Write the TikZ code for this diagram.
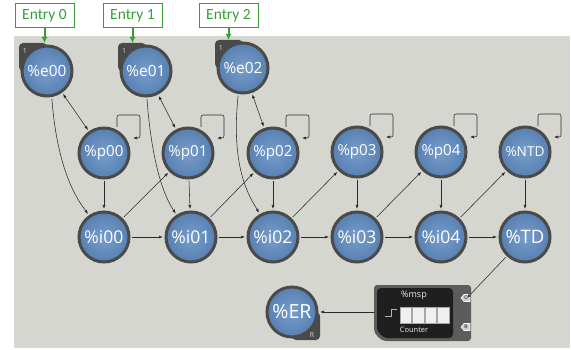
\documentclass[tikz,border=0pt]{standalone}
\usepackage{graphicx}
\usepackage{fontspec}
\usetikzlibrary{arrows.meta,calc,backgrounds}
\newfontfamily\ballfont{Open Sans}
\newfontfamily\entryfont{Carlito}
\definecolor{canvas}{HTML}{D6D6D0}
\definecolor{ballblue}{HTML}{5F8CC2}
\definecolor{balledge}{HTML}{4A4A4A}
\definecolor{wire}{HTML}{2A2A2A}
\definecolor{entrygreen}{HTML}{36A036}
\definecolor{mspgray}{HTML}{5C5C5C}
\definecolor{mspblack}{HTML}{1F1F1F}
\newcommand{\fitlbl}[1]{\resizebox{39pt}{!}{#1}}

\begin{document}
\begin{tikzpicture}[x=1pt,y=-1pt,>={Latex[length=4pt,width=3pt]},
  ball/.style={circle,draw=balledge,line width=3pt,inner color=ballblue!85!white,
    outer color=ballblue!92!black,minimum size=50pt,inner sep=0pt,outer sep=3pt,
    text=white,font=\ballfont},
  link/.style={draw=wire,line width=.55pt,->},
  selfwire/.style={link,rounded corners=2pt},
  entrybox/.style={draw=entrygreen,line width=1pt,fill=white,text=entrygreen,
    minimum width=59pt,minimum height=24pt,inner sep=0pt,
    font=\entryfont\fontsize{15.5}{15.5}\selectfont},
  entryarrow/.style={draw=entrygreen,line width=2pt,-{Latex[length=6pt,width=6pt]}},
  cornerlbl/.style={text=white!85!black,font=\ballfont\fontsize{7}{7}\selectfont,inner sep=0pt},
  mspText/.style={text=white!92!black,inner sep=0pt}]
\useasboundingbox (0,0) rectangle (571,350);
% entry nodes
\node[ball] (e00) at (47,71) {\fitlbl{\%e00}};
\node[ball] (e01) at (146,71) {\fitlbl{\%e01}};
\node[ball] (e02) at (243,68) {\fitlbl{\%e02}};
% p row
\node[ball] (p00) at (104,153) {\fitlbl{\%p00}};
\node[ball] (p01) at (188,153) {\fitlbl{\%p01}};
\node[ball] (p02) at (273,153) {\fitlbl{\%p02}};
\node[ball] (p03) at (357,152) {\fitlbl{\%p03}};
\node[ball] (p04) at (441,152) {\fitlbl{\%p04}};
\node[ball] (NTD) at (525,152) {\fitlbl{\%NTD}};
% i row
\node[ball] (i00) at (104,237) {\fitlbl{\%i00}};
\node[ball] (i01) at (191,237) {\fitlbl{\%i01}};
\node[ball] (i02) at (273,237) {\fitlbl{\%i02}};
\node[ball] (i03) at (357,237) {\fitlbl{\%i03}};
\node[ball] (i04) at (441,237) {\fitlbl{\%i04}};
\node[ball] (TD) at (525,237) {\fitlbl{\%TD}};
\node[ball] (ER) at (292,312) {\fitlbl{\%ER}};
\begin{scope}[on background layer]
\fill[canvas] (14,36) rectangle (570,348);
\foreach \n in {e00,e01,e02}
  \fill[balledge,rounded corners=4pt] (\n.west |- \n.north) rectangle (\n.center);
\fill[balledge,rounded corners=4pt] (ER.center) rectangle (ER.east |- ER.south);
\end{scope}
\foreach \n in {e00,e01,e02} \node[cornerlbl] at ($(\n)+(-22,-20)$) {1};
\node[cornerlbl] at ($(ER)+(20,23)$) {R};
% entry boxes
\node[entrybox] (ent0) at (44.5,16) {Entry 0};
\node[entrybox] (ent1) at (132.5,16) {Entry 1};
\node[entrybox] (ent2) at (228.5,16) {Entry 2};
\draw[entryarrow] (ent0.south) -- (ent0.south |- e00.north);
\draw[entryarrow] (ent1.south) -- (ent1.south |- e01.north);
\draw[entryarrow] (ent2.south) -- (ent2.south |- e02.north);
% wiring
\foreach \a/\b in {p00/i00,p01/i01,p02/i02,p03/i03,p04/i04,NTD/TD,
    i00/i01,i01/i02,i02/i03,i03/i04,i04/TD,
    i00/p01,i01/p02,i02/p03,i03/p04,i04/NTD}
  \draw[link] (\a) -- (\b);
\foreach \a/\b in {e00/p00,e01/p01,e02/p02} \draw[link,<->] (\a) -- (\b);
\draw[link] (e00.-80) .. controls +(6,80) and +(-6,-9) .. (i00.125);
\draw[link] (e01.-88) .. controls +(6,80) and +(-6,-9) .. (i01.123);
\draw[link] (e02.-100) .. controls +(-8,75) and +(-8,-14) .. (i02.120);
\foreach \n in {p00,p01,p02,p03,p04,NTD}
  \draw[selfwire] ($(\n)+(13,-26)$) |- ++(23,-12) |- ($(\n)+(29,-15)$);
% counter block
\fill[mspgray,rounded corners=3pt] (420,285) -- (471,285) -- (471,341) -- (389,341)
  .. controls (380.7,341) and (374,334.3) .. (374,326) -- (374,285) -- cycle;
\fill[mspblack,rounded corners=4pt] (415,288) -- (453,288) -- (453,338) -- (391,338)
  .. controls (383,338) and (377,332) .. (377,324) -- (377,288) -- cycle;
\foreach \k in {0,...,3}
  \fill[white!88!gray,draw=gray!70,line width=.4pt]
    ({400+12.5*\k},307) rectangle ++(11.5,16);
\draw[white!70!black,line width=1pt] (385,316) -- (391,316) -- (391,309) -- (397,309);
\node[mspText,font=\ballfont\fontsize{9}{9}\selectfont] (msp) at (414,295) {\%msp};
\node[mspText,font=\ballfont\fontsize{7.5}{7.5}\selectfont] (cnt) at (414,330) {Counter};
\foreach \y/\t in {298/C,327/R} {
  \draw[white,fill=white!80!black,line width=.6pt] (461,\y) -- (464,\y-3.5) -- (470,\y-3.5)
    -- (470,\y+3.5) -- (464,\y+3.5) -- cycle;
  \node[inner sep=0pt,font=\ballfont\fontsize{5}{5}\selectfont] at (466,\y) {\t};
}
\coordinate (mspC) at (467,298);
\coordinate (mspout) at (374,312);
\draw[link] (TD) -- (mspC);
\draw[link] (mspout) -- (ER);
\end{tikzpicture}
\end{document}
